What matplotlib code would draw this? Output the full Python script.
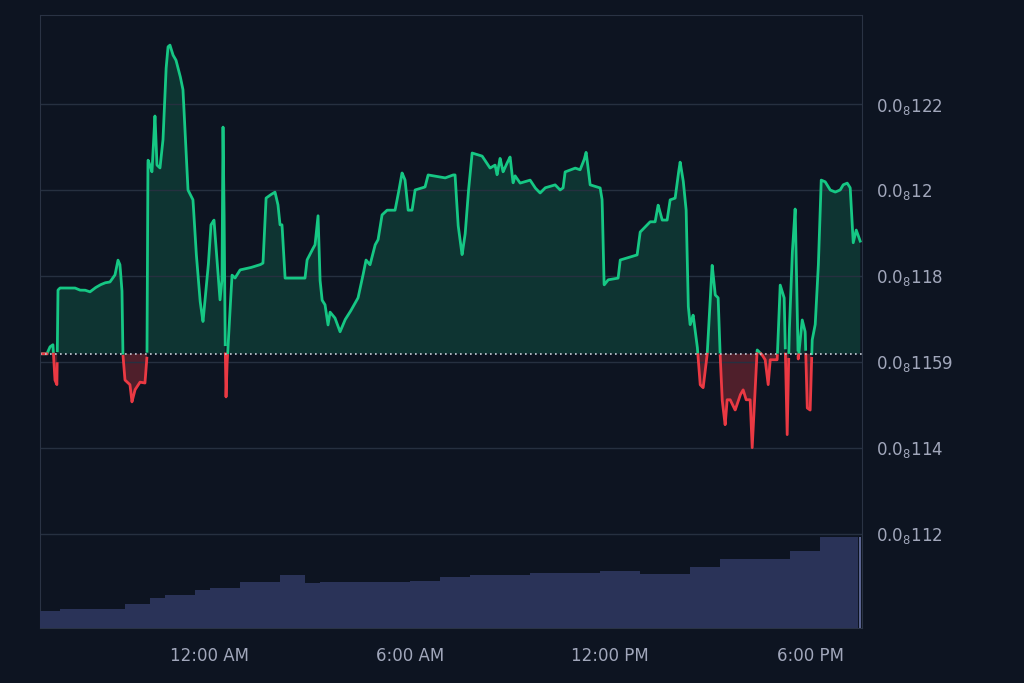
import numpy as np
import matplotlib.pyplot as plt

# hours relative to midnight, price in units of 0.0_8 (x1e-3)
hours = [-5.10, -4.89, -4.80, -4.71, -4.65, -4.59, -4.56, -4.50, -4.05, -3.90, -3.75, -3.60, -3.45,
         -3.30, -3.15, -3.00, -2.85, -2.76, -2.70, -2.64, -2.61, -2.55, -2.40, -2.34, -2.25, -2.10,
         -1.95, -1.89, -1.86, -1.80, -1.74, -1.65, -1.59, -1.50, -1.41, -1.32, -1.26, -1.20, -1.11,
         -1.02, -0.90, -0.81, -0.72, -0.66, -0.51, -0.42, -0.30, -0.21, -0.12, -0.06, 0.03, 0.12,
         0.21, 0.30, 0.36, 0.39, 0.42, 0.45, 0.48, 0.51, 0.57, 0.66, 0.75, 0.90, 1.20, 1.50, 1.59,
         1.68, 1.80, 1.95, 2.04, 2.10, 2.16, 2.25, 2.85, 2.91, 3.06, 3.15, 3.24, 3.30, 3.36, 3.45,
         3.54, 3.60, 3.75, 3.90, 4.05, 4.20, 4.35, 4.44, 4.56, 4.68, 4.80, 4.95, 5.04, 5.16, 5.31,
         5.46, 5.55, 5.64, 5.76, 5.85, 5.94, 6.06, 6.15, 6.45, 6.54, 7.05, 7.29, 7.35, 7.44, 7.56,
         7.65, 7.74, 7.86, 8.16, 8.40, 8.55, 8.61, 8.70, 8.79, 8.88, 9.00, 9.09, 9.15, 9.30, 9.60,
         9.75, 9.90, 10.05, 10.35, 10.50, 10.59, 10.65, 10.95, 11.10, 11.22, 11.28, 11.40, 11.70,
         11.76, 11.82, 11.94, 12.24, 12.30, 12.81, 12.90, 13.20, 13.35, 13.44, 13.56, 13.71, 13.80,
         13.95, 14.04, 14.10, 14.19, 14.28, 14.34, 14.40, 14.49, 14.55, 14.61, 14.70, 14.79, 14.91,
         15.00, 15.06, 15.15, 15.24, 15.30, 15.36, 15.45, 15.51, 15.60, 15.75, 15.90, 15.99, 16.08,
         16.20, 16.26, 16.35, 16.41, 16.56, 16.65, 16.74, 16.80, 17.01, 17.10, 17.22, 17.31, 17.37,
         17.46, 17.55, 17.64, 17.76, 17.85, 17.91, 18.00, 18.06, 18.15, 18.24, 18.33, 18.45, 18.60,
         18.75, 18.90, 18.99, 19.11, 19.20, 19.29, 19.38, 19.50]
price = [116.19, 116.19, 116.35, 116.40, 115.58, 115.47, 117.67, 117.72, 117.72, 117.67, 117.67,
         117.63, 117.72, 117.79, 117.84, 117.86, 118.02, 118.37, 118.26, 117.67, 116.16, 115.58,
         115.47, 115.07, 115.35, 115.53, 115.51, 116.12, 120.70, 120.58, 120.42, 121.74, 120.58,
         120.51, 121.16, 122.79, 123.33, 123.37, 123.14, 123.02, 122.67, 122.33, 120.93, 120.00,
         119.77, 118.60, 117.44, 116.93, 117.67, 118.14, 119.19, 119.30, 118.37, 117.44, 117.91,
         121.51, 119.77, 116.74, 115.16, 115.93, 116.74, 118.02, 117.95, 118.14, 118.19, 118.26,
         118.30, 119.81, 119.88, 119.95, 119.65, 119.19, 119.19, 117.95, 117.95, 118.37, 118.60,
         118.72, 119.42, 117.91, 117.44, 117.33, 116.86, 117.16, 117.02, 116.70, 116.98, 117.16,
         117.37, 117.49, 117.91, 118.37, 118.26, 118.72, 118.84, 119.42, 119.53, 119.53, 119.53,
         119.88, 120.40, 120.23, 119.53, 119.53, 120.00, 120.07, 120.35, 120.28, 120.35, 120.35,
         119.19, 118.49, 118.95, 119.88, 120.86, 120.79, 120.51, 120.58, 120.35, 120.74, 120.42,
         120.58, 120.77, 120.16, 120.33, 120.16, 120.23, 120.05, 119.93, 120.05, 120.12, 120.00,
         120.05, 120.42, 120.51, 120.47, 120.70, 120.88, 120.12, 120.05, 119.77, 117.79, 117.91,
         117.95, 118.37, 118.49, 119.02, 119.26, 119.26, 119.65, 119.30, 119.30, 119.77, 119.81,
         120.35, 120.65, 120.23, 119.53, 117.33, 116.86, 117.09, 116.74, 116.40, 115.47, 115.40,
         116.16, 117.44, 118.26, 117.56, 117.49, 116.16, 115.12, 114.53, 115.12, 115.12, 114.88,
         115.23, 115.35, 115.12, 115.12, 114.00, 115.35, 116.28, 116.16, 116.05, 115.47, 116.05,
         116.05, 117.79, 117.49, 114.30, 116.63, 118.49, 119.58, 116.05, 116.98, 116.70, 114.93,
         114.88, 116.51, 116.86, 118.14, 120.23, 120.19, 120.00, 119.95, 120.00, 120.12, 120.16,
         120.05, 118.77, 119.07, 118.81]
baseline = 116.19

# volume steps: start hour and level
vol_hours = [-5.10, -4.50, -2.55, -1.80, -1.35, -0.45, 0.00, 0.90, 2.10, 2.85, 3.30, 6.00, 6.90,
             7.80, 9.60, 11.70, 12.90, 14.40, 15.30, 17.40, 18.30, 19.44]
vol_level = [16, 18, 23, 28, 31, 36, 38, 44, 50, 43, 44, 45, 48, 50, 52, 54, 51, 58, 65, 73, 86, 86]

yticks = [112, 114, 116, 118, 120, 122]
ylabels = ['0.0$_8$112', '0.0$_8$114', '0.0$_8$1159', '0.0$_8$118', '0.0$_8$12', '0.0$_8$122']
xticks = [0, 6, 12, 18]
xlabels = ['12:00 AM', '6:00 AM', '12:00 PM', '6:00 PM']

bg = '#0d1421'
green = '#16c784'
red = '#ea3943'
grid = '#263040'
text = '#a1a7bb'

fig = plt.figure(figsize=(10.24, 6.83), dpi=100, facecolor=bg)
ax = fig.add_axes([0.039, 0.0805, 0.803, 0.8975], facecolor=bg)
vax = fig.add_axes([0.039, 0.0805, 0.803, 0.136], sharex=ax)
vax.set_facecolor('none')

x = np.array(hours)
y = np.array(price)
# densify for clean colour split at baseline
xd = np.linspace(x[0], x[-1], 6000)
yd = np.interp(xd, x, y)
ax.fill_between(xd, yd, baseline, where=yd >= baseline, color=green, alpha=0.18, lw=0)
ax.fill_between(xd, yd, baseline, where=yd < baseline, color=red, alpha=0.3, lw=0)
above = np.where(yd >= baseline, yd, np.nan)
below = np.where(yd <= baseline, yd, np.nan)
ax.plot(xd, above, color=green, lw=2)
ax.plot(xd, below, color=red, lw=2)
ax.axhline(baseline, color='#c8cdd8', lw=1.2, ls=(0, (1, 2)))

ax.set_xlim(-5.1, 19.56)
ax.set_ylim(109.81, 124.07)
ax.set_yticks(yticks)
ax.set_yticklabels(ylabels)
ax.yaxis.tick_right()
ax.set_xticks(xticks)
ax.set_xticklabels(xlabels)
ax.grid(axis='y', color=grid, lw=1)
ax.tick_params(colors=text, labelsize=12, length=0, pad=10)
ax.tick_params(axis='x', pad=14)
for s in ax.spines.values():
    s.set_color('#2a3344')

vax.fill_between(vol_hours, vol_level, step='post', color='#2a3358', lw=0)
vax.bar(vol_hours[-1] + 0.04, vol_level[-1], width=0.06, color='#5a6490')
vax.set_ylim(0, 88)
vax.axis('off')

fig.savefig('out.png', dpi=100, facecolor=bg)
